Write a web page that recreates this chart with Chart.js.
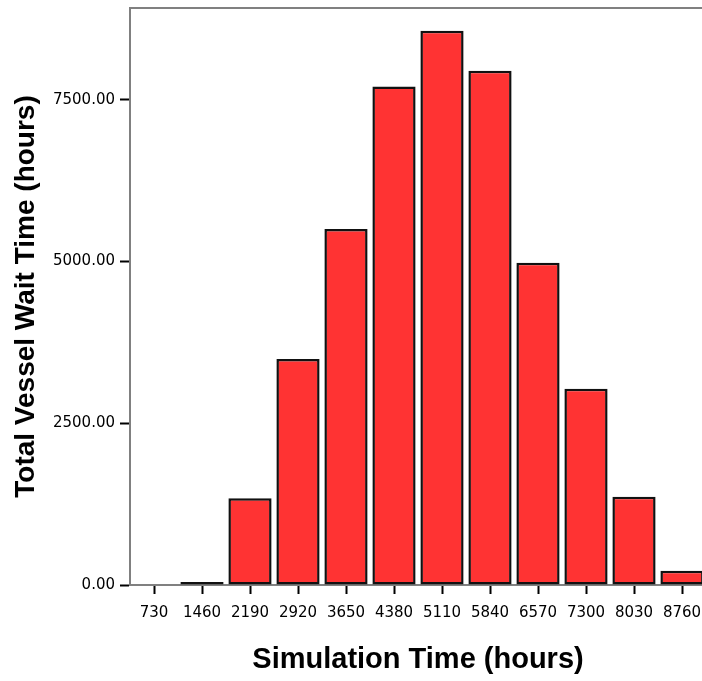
<!DOCTYPE html>
<html>
<head>
<meta charset="utf-8">
<script src="https://cdn.jsdelivr.net/npm/chart.js@4.4.1/dist/chart.umd.min.js"></script>
<style>
  html, body { margin: 0; padding: 0; background: #fff; overflow: hidden; }
</style>
</head>
<body>
<canvas id="canvas" width="710" height="681"></canvas>
<script>
// simulation time categories (hours) and total vessel wait time for each
let simTimes = ["730", "1460", "2190", "2920", "3650", "4380", "5110", "5840", "6570", "7300", "8030", "8760"];
let waitTimes = [0, 45, 1340, 3495, 5505, 7705, 8570, 7950, 4980, 3035, 1365, 220];
let yTickValues = [0, 2500, 5000, 7500];

// grey frame line along the top of the plot
const topFrame = {
    id: 'topFrame',
    afterDraw(chart) {
        const ctx = chart.ctx;
        const a = chart.chartArea;
        ctx.save();
        ctx.strokeStyle = '#808080';
        ctx.lineWidth = 2;
        ctx.beginPath();
        ctx.moveTo(a.left - 1, a.top);
        ctx.lineTo(a.right, a.top);
        ctx.stroke();
        ctx.restore();
    }
};

var ctx = document.getElementById('canvas').getContext('2d');
let myChart = new Chart(ctx, {
    type: 'bar',
    data: {
        labels: simTimes,
        datasets: [{
            label: 'Total Vessel Wait Time',
            data: waitTimes,
            backgroundColor: '#ff3333',
            borderColor: '#111',
            borderWidth: 2.5,
            borderSkipped: false,
            barPercentage: 0.9,
            categoryPercentage: 1.0
        }]
    },
    options: {
        responsive: false,
        animation: false,
        layout: { padding: { top: 8, right: 4, left: 0, bottom: 0 } },
        plugins: {
            legend: { display: false },
            tooltip: { enabled: false }
        },
        scales: {
            x: {
                grid: {
                    display: true,
                    drawOnChartArea: false,
                    offset: false,
                    tickLength: 9,
                    tickWidth: 2,
                    tickColor: '#000'
                },
                border: { display: true, color: '#808080', width: 2 },
                ticks: {
                    color: '#000',
                    font: { family: 'DejaVu Sans', size: 15 },
                    padding: 10,
                    maxRotation: 0,
                    autoSkip: false
                },
                title: {
                    display: true,
                    text: 'Simulation Time (hours)',
                    color: '#000',
                    font: { family: 'Liberation Sans', size: 29, weight: 'bold' },
                    padding: { top: 0, bottom: 4 }
                },
                afterFit: s => { s.height = 96; s.paddingLeft = 0; s.paddingRight = 0; }
            },
            y: {
                min: 0,
                max: 8920,
                grid: {
                    display: true,
                    drawOnChartArea: false,
                    tickLength: 10,
                    tickWidth: 2,
                    tickColor: '#000'
                },
                border: { display: true, color: '#808080', width: 2 },
                ticks: {
                    stepSize: 2500,
                    color: '#000',
                    font: { family: 'DejaVu Sans', size: 15 },
                    padding: 5,
                    callback: v => Number(v).toFixed(2)
                },
                afterBuildTicks: s => {
                    s.ticks = yTickValues.map(v => ({ value: v }));
                },
                title: {
                    display: true,
                    text: 'Total Vessel Wait Time (hours)',
                    color: '#000',
                    font: { family: 'Liberation Sans', size: 28, weight: 'bold' },
                    padding: { top: 9, bottom: 0 }
                },
                afterFit: s => { s.width = 130; s.paddingTop = 0; s.paddingBottom = 0; }
            }
        }
    },
    plugins: [topFrame]
});
</script>
</body>
</html>
